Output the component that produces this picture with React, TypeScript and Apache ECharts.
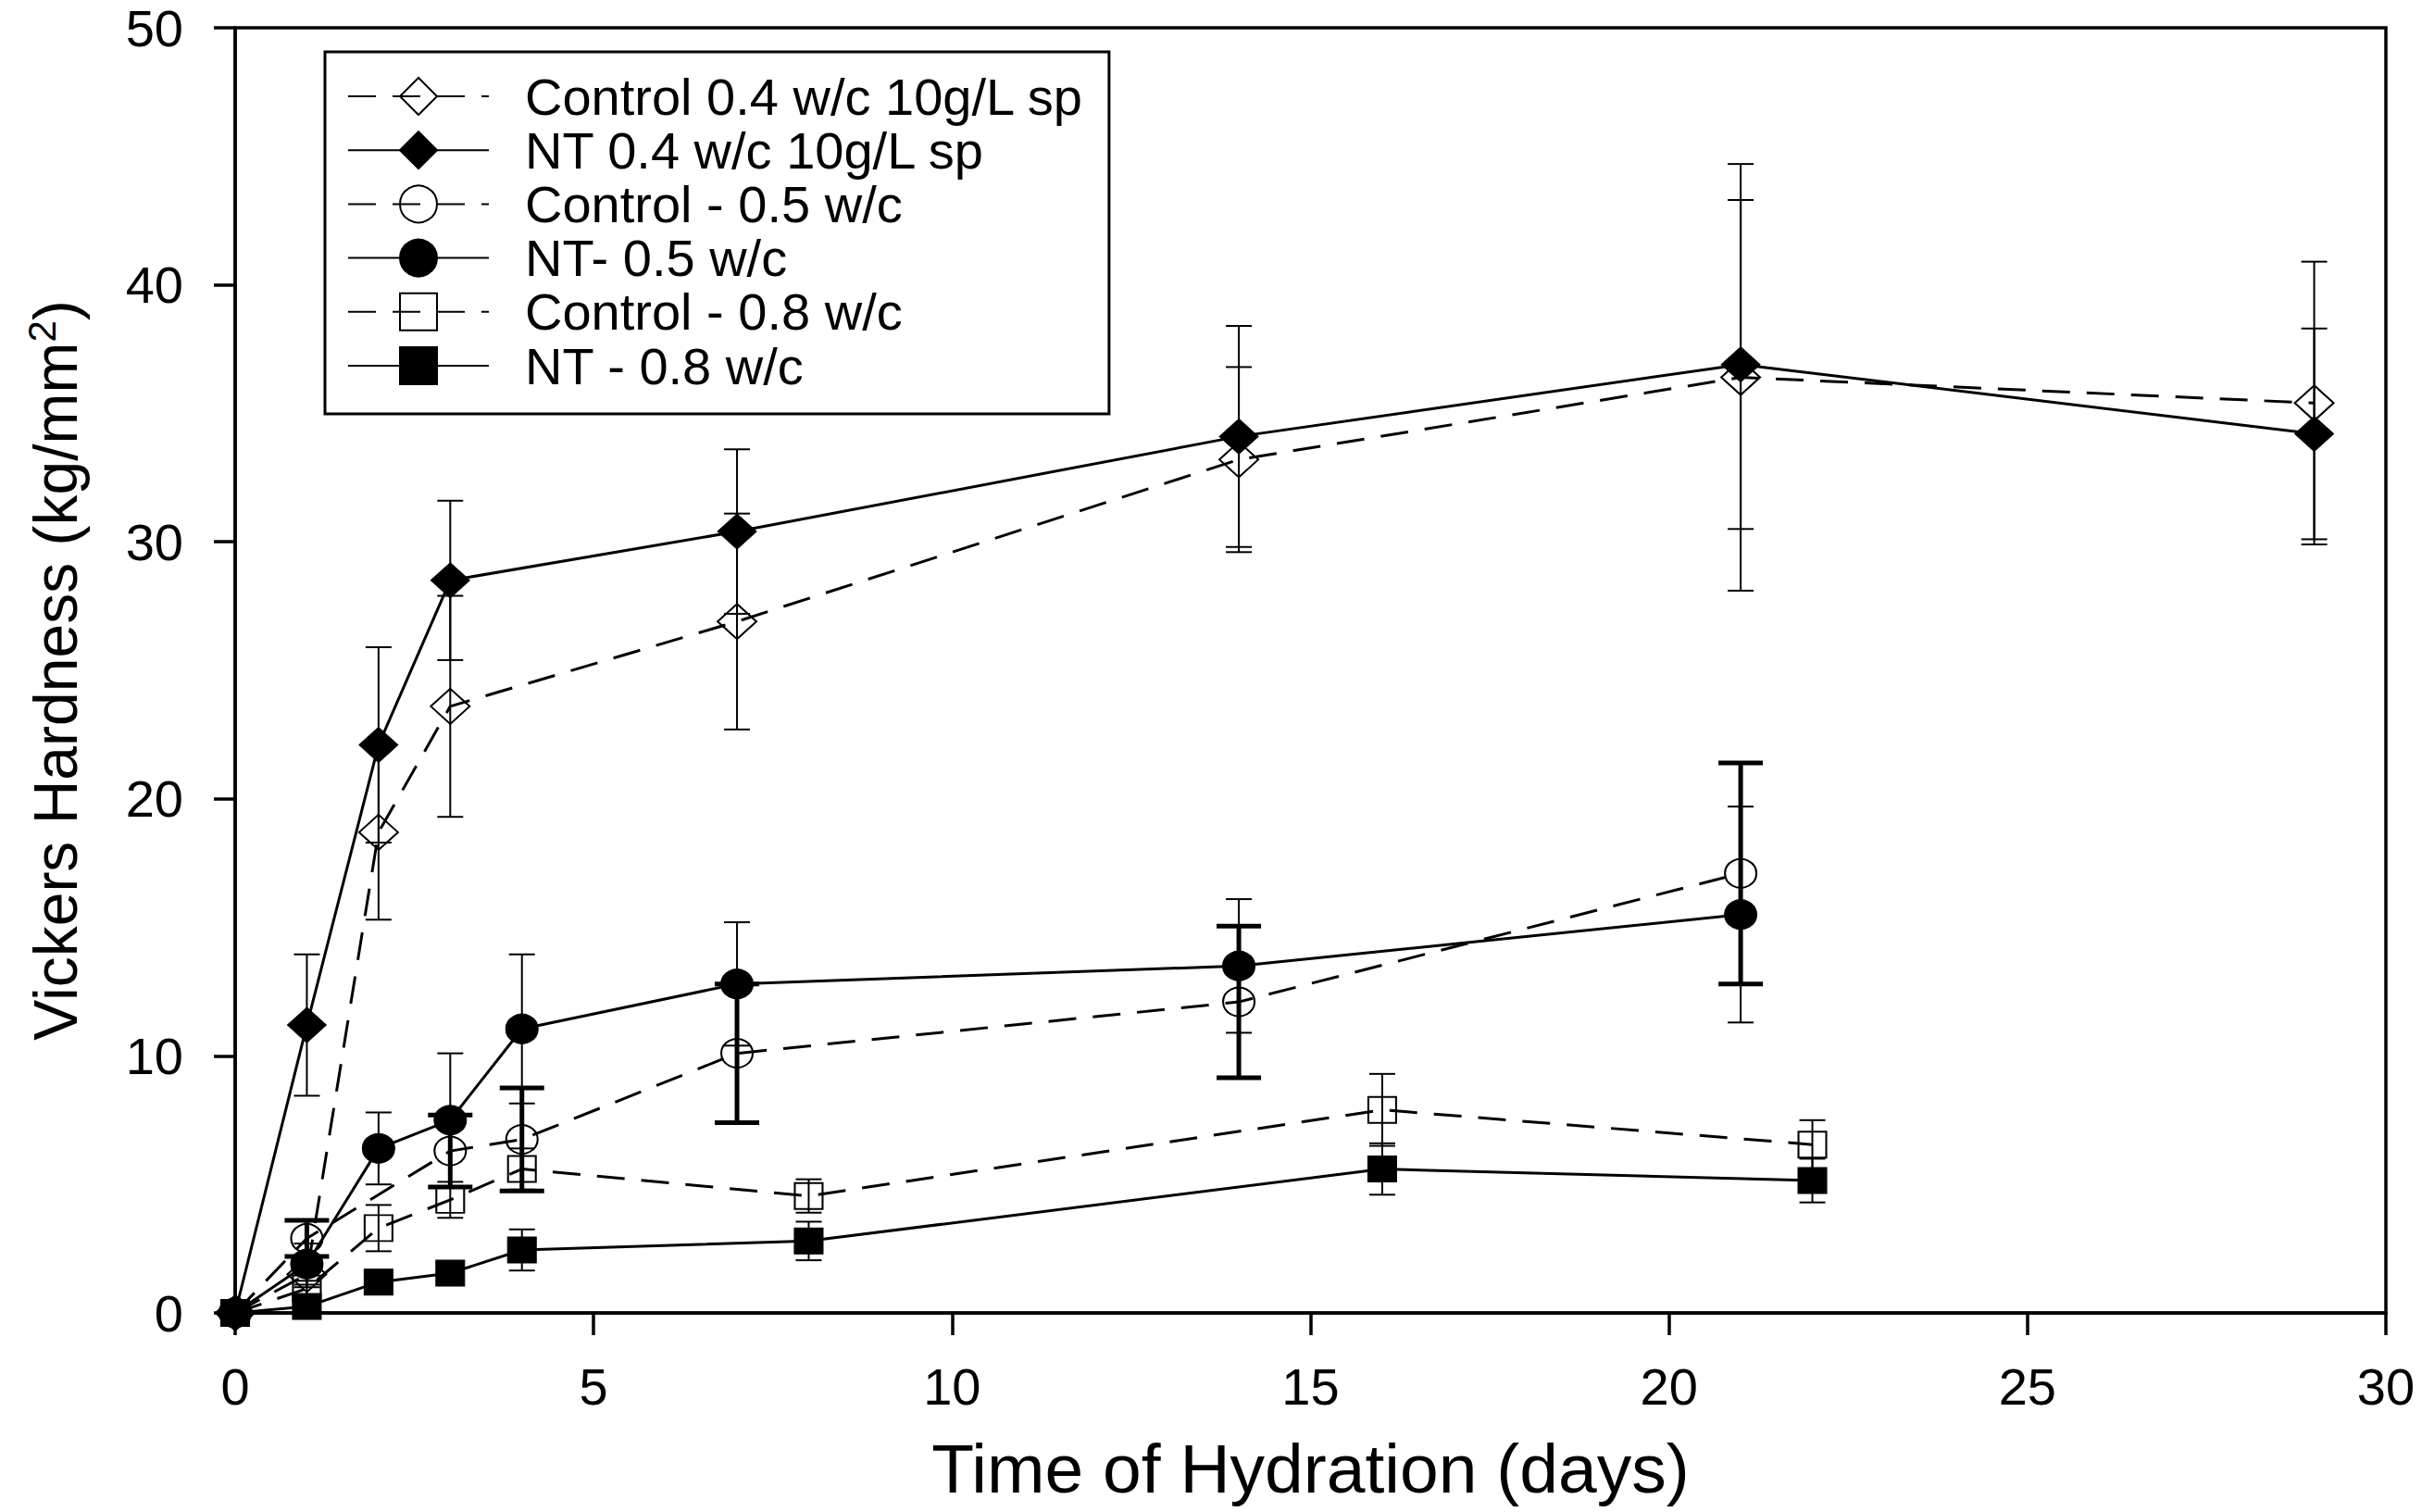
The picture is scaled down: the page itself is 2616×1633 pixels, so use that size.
import React, { useEffect, useRef } from 'react';
import * as echarts from 'echarts';

// ---- Data ----
const xTickValues = [0, 5, 10, 15, 20, 25, 30];
const yTickValues = [0, 10, 20, 30, 40, 50];

const xTitle = 'Time of Hydration (days)';

const seriesNames = [
  'Control 0.4 w/c 10g/L sp',
  'NT 0.4 w/c 10g/L sp',
  'Control - 0.5 w/c',
  'NT- 0.5 w/c',
  'Control - 0.8 w/c',
  'NT - 0.8 w/c',
];

const c04Days = [0, 1, 2, 3, 7, 14, 21, 29];
const c04Vals = [0, 1.5, 18.7, 23.6, 26.9, 33.2, 36.4, 35.4];
const c04Errs = [0, 0.5, 3.4, 4.3, 4.2, 3.6, 8.3, 5.5];

const nt04Days = [0, 1, 2, 3, 7, 14, 21, 29];
const nt04Vals = [0, 11.2, 22.1, 28.5, 30.4, 34.1, 36.9, 34.2];
const nt04Errs = [0, 2.75, 3.8, 3.1, 3.2, 4.3, 6.4, 4.1];

const c05Days = [0, 1, 3, 4, 7, 14, 21];
const c05Vals = [0, 2.9, 6.3, 6.75, 10.1, 12.1, 17.1];
const c05Errs = [0, 0.7, 1.4, 2.0, 2.7, 2.95, 4.3];

const nt05Days = [0, 1, 2, 3, 4, 7, 14, 21];
const nt05Vals = [0, 1.9, 6.4, 7.5, 11.05, 12.8, 13.5, 15.5];
const nt05Errs = [0, 0.8, 1.4, 2.6, 2.9, 2.4, 2.6, 4.2];

const c08Days = [0, 1, 2, 3, 4, 8, 16, 22];
const c08Vals = [0, 0.95, 3.3, 4.4, 5.6, 4.55, 7.9, 6.55];
const c08Errs = [0, 0.3, 0.9, 0.7, 0.8, 0.65, 1.4, 0.95];

const nt08Days = [0, 1, 2, 3, 4, 8, 16, 22];
const nt08Vals = [0, 0.25, 1.2, 1.55, 2.45, 2.8, 5.6, 5.15];
const nt08Errs = [0, 0.2, 0.2, 0.2, 0.8, 0.75, 1.0, 0.85];

const FONT = '"Liberation Sans", Arial, Helvetica, sans-serif';

type Def = {
  name: string;
  days: number[];
  vals: number[];
  errs: number[];
  symbol: string;
  size: number[];
  filled: boolean;
  dashed: boolean;
  thickErr: boolean;
};

const defs: Def[] = [
  { name: seriesNames[0], days: c04Days, vals: c04Vals, errs: c04Errs, symbol: 'diamond', size: [42, 38], filled: false, dashed: true, thickErr: false },
  { name: seriesNames[1], days: nt04Days, vals: nt04Vals, errs: nt04Errs, symbol: 'diamond', size: [42, 38], filled: true, dashed: false, thickErr: false },
  { name: seriesNames[2], days: c05Days, vals: c05Vals, errs: c05Errs, symbol: 'circle', size: [34, 31], filled: false, dashed: true, thickErr: true },
  { name: seriesNames[3], days: nt05Days, vals: nt05Vals, errs: nt05Errs, symbol: 'circle', size: [35, 32], filled: true, dashed: false, thickErr: false },
  { name: seriesNames[4], days: c08Days, vals: c08Vals, errs: c08Errs, symbol: 'rect', size: [30, 28], filled: false, dashed: true, thickErr: false },
  { name: seriesNames[5], days: nt08Days, vals: nt08Vals, errs: nt08Errs, symbol: 'rect', size: [31, 28], filled: true, dashed: false, thickErr: false },
];

export default function App() {
  const ref = useRef<HTMLDivElement>(null);

  useEffect(() => {
    const chart = echarts.init(ref.current as HTMLDivElement, null, { renderer: 'svg' });

    const errSeries = defs.map((d) => {
      const data = d.days
        .map((x, i) => [x, d.vals[i] - d.errs[i], d.vals[i] + d.errs[i]])
        .filter((_, i) => d.errs[i] > 0);
      const lw = d.thickErr ? 5 : 2;
      const hw = d.thickErr ? 24 : 14;
      return {
        type: 'custom',
        name: d.name + ' error',
        data,
        z: 1,
        silent: true,
        renderItem: (params: any, api: any) => {
          const x = api.value(0);
          const lo = api.value(1);
          const hi = api.value(2);
          const pHi = api.coord([x, hi]);
          const pLo = api.coord([x, lo]);
          const style = { stroke: '#000', lineWidth: lw, fill: 'none' };
          return {
            type: 'group',
            children: [
              { type: 'line', shape: { x1: pHi[0], y1: pHi[1], x2: pLo[0], y2: pLo[1] }, style },
              { type: 'line', shape: { x1: pHi[0] - hw, y1: pHi[1], x2: pHi[0] + hw, y2: pHi[1] }, style },
              { type: 'line', shape: { x1: pLo[0] - hw, y1: pLo[1], x2: pLo[0] + hw, y2: pLo[1] }, style },
            ],
          };
        },
      };
    });

    const lineSeries = defs.map((d) => ({
      type: 'line',
      name: d.name,
      data: d.days.map((x, i) => [x, d.vals[i]]),
      symbol: d.symbol,
      symbolSize: d.size,
      showAllSymbol: true,
      z: 3,
      lineStyle: {
        color: '#000',
        width: 3,
        type: d.dashed ? [30, 18] : 'solid',
      },
      itemStyle: d.filled
        ? { color: '#000', borderColor: '#000', borderWidth: 1 }
        : { color: 'rgba(255,255,255,0)', borderColor: '#000', borderWidth: 2 },
      emphasis: { disabled: true },
    }));

    const option: any = {
      animation: false,
      backgroundColor: '#fff',
      textStyle: { fontFamily: FONT, color: '#000' },
      grid: {
        left: 254,
        top: 30,
        right: 39,
        bottom: 215,
        show: true,
        borderColor: '#000',
        borderWidth: 3.5,
        backgroundColor: 'transparent',
      },
      legend: {
        data: seriesNames,
        orient: 'vertical',
        left: 351,
        top: 56,
        itemWidth: 152,
        itemHeight: 50,
        itemGap: 2.2,
        padding: [20, 27, 24, 24],
        borderColor: '#000',
        borderWidth: 3,
        backgroundColor: '#fff',
        selectedMode: false,
        textStyle: {
          fontFamily: FONT,
          fontSize: 56,
          lineHeight: 50,
          color: '#000',
          padding: [0, 0, 0, 34],
        },
      },
      xAxis: {
        type: 'value',
        min: xTickValues[0],
        max: xTickValues[xTickValues.length - 1],
        interval: xTickValues[1] - xTickValues[0],
        name: xTitle,
        nameLocation: 'middle',
        nameGap: 130,
        nameTextStyle: { fontFamily: FONT, fontSize: 75, color: '#000' },
        axisLine: { show: true, onZero: false, lineStyle: { color: '#000', width: 3.5 } },
        axisTick: { show: true, inside: false, length: 24, lineStyle: { color: '#000', width: 3.5 } },
        axisLabel: { fontFamily: FONT, fontSize: 56, color: '#000', margin: 51 },
        splitLine: { show: false },
      },
      yAxis: {
        type: 'value',
        min: yTickValues[0],
        max: yTickValues[yTickValues.length - 1],
        interval: yTickValues[1] - yTickValues[0],
        name: 'Vickers Hardness (kg/mm{sup|2})',
        nameLocation: 'middle',
        nameRotate: 90,
        nameGap: 158,
        nameTextStyle: {
          fontFamily: FONT,
          fontSize: 66,
          color: '#000',
          rich: {
            sup: { fontFamily: FONT, fontSize: 42, color: '#000', verticalAlign: 'top', padding: [0, 0, 30, 0] },
          },
        },
        axisLine: { show: true, onZero: false, lineStyle: { color: '#000', width: 3.5 } },
        axisTick: { show: true, inside: false, length: 23, lineStyle: { color: '#000', width: 3.5 } },
        axisLabel: { fontFamily: FONT, fontSize: 56, color: '#000', margin: 56 },
        splitLine: { show: false },
      },
      series: [...errSeries, ...lineSeries],
    };

    chart.setOption(option);
    return () => chart.dispose();
  }, []);

  return (
    <div
      ref={ref}
      style={{ position: 'absolute', left: 0, top: 0, width: 2616, height: 1633, background: '#fff' }}
    />
  );
}
